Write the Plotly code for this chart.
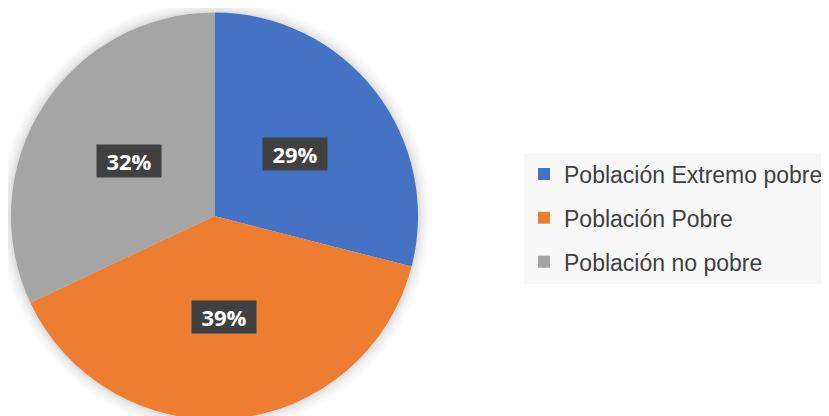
import math
import plotly.graph_objects as go

categories = ["Población Extremo pobre", "Población Pobre", "Población no pobre"]
values = [29, 39, 32]
colors = ["#4472C4", "#ED7D31", "#A5A5A5"]

W, H = 829, 416
OFF = 8  # page body margin
dom_x = [(11 - OFF) / W, (418 - OFF) / W]
dom_y = [0.0, 1.0]

fig = go.Figure()

cx = (dom_x[0] + dom_x[1]) / 2 * W
cy = (1 - (dom_y[0] + dom_y[1]) / 2) * H
R = min((dom_x[1] - dom_x[0]) * W, (dom_y[1] - dom_y[0]) * H) / 2

# soft glow/shadow around the pie
for i, a in enumerate([0.035, 0.03, 0.025, 0.02, 0.015]):
    r = R + 2 + 2.5 * i
    fig.add_shape(
        type="circle", xref="paper", yref="paper", layer="below",
        x0=(cx - r) / W, x1=(cx + r) / W,
        y0=1 - (cy + r) / H, y1=1 - (cy - r) / H,
        fillcolor="rgba(0,0,0,%g)" % a, line=dict(width=0),
    )

fig.add_trace(go.Pie(
    labels=categories,
    values=values,
    sort=False,
    direction="clockwise",
    rotation=0,
    marker=dict(colors=colors, line=dict(width=0)),
    textinfo="none",
    hoverinfo="label+percent",
    domain=dict(x=dom_x, y=dom_y),
    showlegend=False,
))

# legend entries
for name, col in zip(categories, colors):
    fig.add_trace(go.Scatter(
        x=[None], y=[None], mode="markers", name=name, legendgroup=name,
        marker=dict(symbol="square", size=13, color=col),
        showlegend=True, hoverinfo="skip",
    ))

# data labels placed at mid-angle of each slice, half radius
total = sum(values)
acc = 0
for v in values:
    mid = (acc + v / 2) / total * 2 * math.pi
    acc += v
    px = cx + 0.5 * R * math.sin(mid)
    py = cy - 0.5 * R * math.cos(mid)
    fig.add_annotation(
        x=px / W, y=1 - py / H, xref="paper", yref="paper",
        xanchor="center", yanchor="middle",
        text="<b>%d%%</b>" % round(v / total * 100),
        showarrow=False,
        font=dict(family="Open Sans, sans-serif", size=22, color="white"),
        bgcolor="#404040",
        width=62, height=30,
        borderpad=1,
    )

fig.update_layout(
    width=W, height=H,
    margin=dict(l=0, r=0, t=0, b=0),
    paper_bgcolor="white",
    plot_bgcolor="white",
    xaxis=dict(visible=False),
    yaxis=dict(visible=False),
    showlegend=True,
    legend=dict(
        x=(524 - OFF) / W, y=1 - (218 - OFF) / H, xanchor="left", yanchor="middle",
        bgcolor="#F8F8F8",
        font=dict(family="Liberation Sans, Arial, sans-serif", size=23, color="#404040"),
        itemwidth=30,
        itemsizing="constant",
        tracegroupgap=11,
    ),
)

fig.write_html("out.html")
